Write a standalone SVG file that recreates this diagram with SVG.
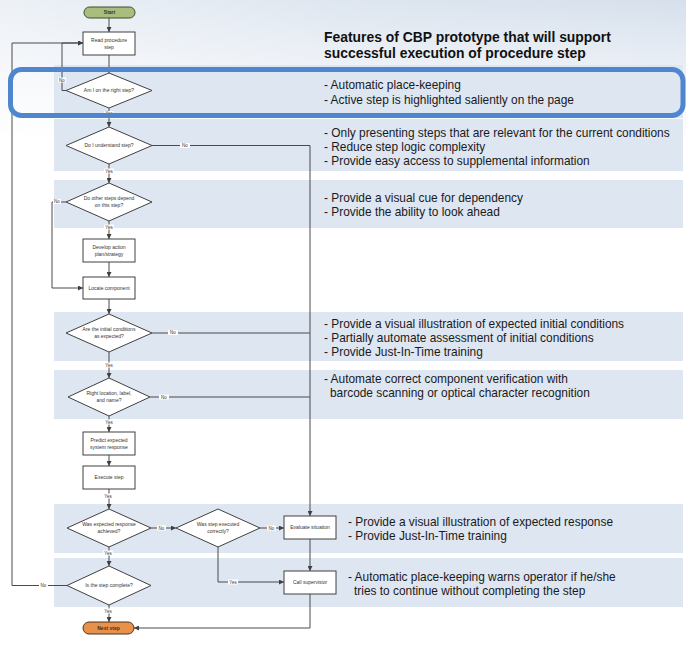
<svg xmlns="http://www.w3.org/2000/svg" width="686" height="645" viewBox="0 0 686 645">
  <defs>
    <linearGradient id="sky" x1="0" y1="0" x2="0" y2="1">
      <stop offset="0" stop-color="#d6e0ec"/>
      <stop offset="0.45" stop-color="#e9eef5"/>
      <stop offset="1" stop-color="#ffffff"/>
    </linearGradient>
    <linearGradient id="skyFade" x1="0" y1="0" x2="1" y2="0">
      <stop offset="0" stop-color="#ffffff" stop-opacity="0.55"/>
      <stop offset="0.5" stop-color="#ffffff" stop-opacity="0.2"/>
      <stop offset="1" stop-color="#ffffff" stop-opacity="0"/>
    </linearGradient>
    <marker id="arrow" viewBox="0 0 6 6" refX="6" refY="3" markerWidth="5" markerHeight="5" markerUnits="userSpaceOnUse" orient="auto">
      <path d="M0,0 L6,3 L0,6 Z" fill="#404040"/>
    </marker>
    <style>
      .band { fill: #dee6f2; }
      .box { fill: #ffffff; stroke: #404040; stroke-width: 1; }
      .dia { fill: #ffffff; stroke: #404040; stroke-width: 1; }
      .conn { fill: none; stroke: #4a4a4a; stroke-width: 1; }
      .arr { marker-end: url(#arrow); }
      .nt { font-family: "Liberation Sans", Arial, sans-serif; font-size: 5px; fill: #333333; text-anchor: middle; }
      .lbl { font-family: "Liberation Sans", Arial, sans-serif; font-size: 4.5px; fill: #333333; text-anchor: middle; }
      .lblbg { fill: #ffffff; }
      .title { font-family: "Liberation Sans", Arial, sans-serif; font-size: 13.9px; font-weight: bold; fill: #111111; }
      .note { font-family: "Liberation Sans", Arial, sans-serif; font-size: 11.9px; fill: #1a1a1a; }
    </style>
  </defs>

  <!-- page background -->
  <rect x="0" y="0" width="686" height="645" fill="#ffffff"/>
  <rect x="0" y="0" width="686" height="140" fill="url(#sky)"/>
  <rect x="0" y="0" width="686" height="140" fill="url(#skyFade)"/>

  <!-- feature bands -->
  <g id="bands">
    <rect class="band" x="54" y="65" width="629" height="53"/>
    <rect class="band" x="54" y="119" width="629" height="52"/>
    <rect class="band" x="54" y="180" width="629" height="48"/>
    <rect class="band" x="54" y="312" width="629" height="49"/>
    <rect class="band" x="54" y="370" width="629" height="49"/>
    <rect class="band" x="54" y="504" width="629" height="49"/>
    <rect class="band" x="54" y="558" width="629" height="49"/>
  </g>

  <!-- connectors -->
  <g id="connectors">
    <path class="conn arr" d="M109 18 V32"/>
    <path class="conn arr" d="M109 55 V73"/>
    <path class="conn arr" d="M66 90.5 H62 V43 H83"/>
    <path class="conn arr" d="M67 585.5 H12 V43 H83"/>
    <path class="conn arr" d="M109 108 V127"/>
    <path class="conn arr" d="M152 145.5 H310 V516"/>
    <path class="conn arr" d="M109 164 V183"/>
    <path class="conn arr" d="M66 202 H52 V288 H83"/>
    <path class="conn arr" d="M109 221 V239"/>
    <path class="conn arr" d="M109 262 V277"/>
    <path class="conn arr" d="M109 299 V314"/>
    <path class="conn" d="M152 333 H310"/>
    <path class="conn arr" d="M109 352 V378"/>
    <path class="conn" d="M150 397 H310"/>
    <path class="conn arr" d="M109 416 V432"/>
    <path class="conn arr" d="M109 455 V466"/>
    <path class="conn arr" d="M109 489 V509"/>
    <path class="conn arr" d="M151 528 H176"/>
    <path class="conn arr" d="M260 528 H284"/>
    <path class="conn arr" d="M218 547 V582 H284"/>
    <path class="conn arr" d="M310 539 V571"/>
    <path class="conn arr" d="M310 594 V628 H134"/>
    <path class="conn arr" d="M109 547 V566"/>
    <path class="conn arr" d="M109 605 V622"/>

    <!-- branch labels -->
    <g id="labels">
      <rect class="lblbg" x="58" y="77.5" width="8" height="5"/><text class="lbl" x="62" y="81.6">No</text>
      <rect class="lblbg" x="104" y="111" width="10" height="5"/><text class="lbl" x="109" y="115">Yes</text>
      <rect class="lblbg" x="180" y="143" width="10" height="5"/><text class="lbl" x="185" y="147.2">No</text>
      <rect class="lblbg" x="104" y="168.5" width="10" height="5"/><text class="lbl" x="109" y="172.6">Yes</text>
      <rect class="lblbg" x="53" y="199" width="8" height="5"/><text class="lbl" x="57" y="203">No</text>
      <rect class="lblbg" x="104" y="224.5" width="10" height="5"/><text class="lbl" x="109" y="228.6">Yes</text>
      <rect class="lblbg" x="168" y="330" width="10" height="5"/><text class="lbl" x="173" y="334">No</text>
      <rect class="lblbg" x="104" y="362.5" width="10" height="5"/><text class="lbl" x="109" y="366.6">Yes</text>
      <rect class="lblbg" x="159" y="394.5" width="10" height="5"/><text class="lbl" x="164" y="398.6">No</text>
      <rect class="lblbg" x="104" y="419.5" width="10" height="5"/><text class="lbl" x="109" y="423.6">Yes</text>
      <rect class="lblbg" x="103" y="493.5" width="10" height="5"/><text class="lbl" x="108" y="497.6">Yes</text>
      <rect class="lblbg" x="157" y="525.5" width="9" height="5"/><text class="lbl" x="161.5" y="529.6">No</text>
      <rect class="lblbg" x="267" y="525.5" width="9" height="5"/><text class="lbl" x="271.5" y="529.6">No</text>
      <rect class="lblbg" x="228" y="579.5" width="10" height="5"/><text class="lbl" x="233" y="583.6">Yes</text>
      <rect class="lblbg" x="103" y="550.5" width="10" height="5"/><text class="lbl" x="108" y="554.6">Yes</text>
      <rect class="lblbg" x="39" y="583" width="9" height="5"/><text class="lbl" x="43.5" y="587">No</text>
      <rect class="lblbg" x="103" y="608.5" width="10" height="5"/><text class="lbl" x="108" y="612.6">Yes</text>
    </g>
  </g>

  <!-- flowchart nodes -->
  <g id="start">
    <rect x="84" y="7" width="51" height="11" rx="5.5" fill="#a9bd7c" stroke="#3e4a2c" stroke-width="1"/>
    <text class="nt" x="109.5" y="14.3" font-weight="bold" fill="#2b2b1b">Start</text>
  </g>
  <g id="read-step">
    <rect class="box" x="83" y="32" width="52" height="23"/>
    <text class="nt" x="109" y="42">Read procedure</text>
    <text class="nt" x="109" y="48.5">step</text>
  </g>
  <g id="right-step">
    <polygon class="dia" points="109,73 152,90.5 109,108 66,90.5"/>
    <text class="nt" x="109" y="92.3">Am I on the right step?</text>
  </g>
  <g id="understand-step">
    <polygon class="dia" points="109,127 152,145.5 109,164 66,145.5"/>
    <text class="nt" x="109" y="147.3">Do I understand step?</text>
  </g>
  <g id="depend-step">
    <polygon class="dia" points="109,183 152,202 109,221 66,202"/>
    <text class="nt" x="109" y="200">Do other steps depend</text>
    <text class="nt" x="109" y="206.5">on this step?</text>
  </g>
  <g id="action-plan">
    <rect class="box" x="83" y="239" width="52" height="23"/>
    <text class="nt" x="109" y="249">Develop action</text>
    <text class="nt" x="109" y="255.5">plan/strategy</text>
  </g>
  <g id="locate">
    <rect class="box" x="83" y="277" width="52" height="22"/>
    <text class="nt" x="109" y="289.7">Locate component</text>
  </g>
  <g id="initial-conditions">
    <polygon class="dia" points="109,314 152,333 109,352 66,333"/>
    <text class="nt" x="109" y="331">Are the initial conditions</text>
    <text class="nt" x="109" y="337.5">as expected?</text>
  </g>
  <g id="right-location">
    <polygon class="dia" points="109,378 150,397 109,416 68,397"/>
    <text class="nt" x="109" y="395">Right location, label,</text>
    <text class="nt" x="109" y="401.5">and name?</text>
  </g>
  <g id="predict">
    <rect class="box" x="83" y="432" width="52" height="23"/>
    <text class="nt" x="109" y="442">Predict expected</text>
    <text class="nt" x="109" y="448.5">system response</text>
  </g>
  <g id="execute">
    <rect class="box" x="83" y="466" width="52" height="23"/>
    <text class="nt" x="109" y="479.2">Execute step</text>
  </g>
  <g id="response-achieved">
    <polygon class="dia" points="109,509 151,528 109,547 67,528"/>
    <text class="nt" x="109" y="526">Was expected response</text>
    <text class="nt" x="109" y="532.5">achieved?</text>
  </g>
  <g id="executed-correctly">
    <polygon class="dia" points="218,509 260,528 218,547 176,528"/>
    <text class="nt" x="218" y="526">Was step executed</text>
    <text class="nt" x="218" y="532.5">correctly?</text>
  </g>
  <g id="evaluate">
    <rect class="box" x="284" y="516" width="52" height="23"/>
    <text class="nt" x="310" y="529.2">Evaluate situation</text>
  </g>
  <g id="supervisor">
    <rect class="box" x="284" y="571" width="52" height="23"/>
    <text class="nt" x="310" y="584.2">Call supervisior</text>
  </g>
  <g id="step-complete">
    <polygon class="dia" points="109,566 151,585.5 109,605 67,585.5"/>
    <text class="nt" x="109" y="587.3">Is the step complete?</text>
  </g>
  <g id="next-step">
    <rect x="83" y="622" width="51" height="12" rx="6" fill="#e8914b" stroke="#4a3320" stroke-width="1"/>
    <text class="nt" x="108.5" y="629.8" font-weight="bold" fill="#2b1d10">Next step</text>
  </g>

  <!-- active-step highlight -->
  <rect id="highlight" x="10.5" y="69.5" width="672.5" height="46" rx="11" fill="none" stroke="#4f86d0" stroke-width="5"/>

  <!-- feature notes -->
  <g id="notes">
    <text class="title" x="324" y="42">Features of CBP prototype that will support</text>
    <text class="title" x="324" y="57.5">successful execution of procedure step</text>

    <text class="note" x="324" y="89">- Automatic place-keeping</text>
    <text class="note" x="324" y="103.5">- Active step is highlighted saliently on the page</text>

    <text class="note" x="324" y="136.5">- Only presenting steps that are relevant for the current conditions</text>
    <text class="note" x="324" y="150.5">- Reduce step logic complexity</text>
    <text class="note" x="324" y="164.5">- Provide easy access to supplemental information</text>

    <text class="note" x="324" y="201.5">- Provide a visual cue for dependency</text>
    <text class="note" x="324" y="216">- Provide the ability to look ahead</text>

    <text class="note" x="324" y="327.5">- Provide a visual illustration of expected initial conditions</text>
    <text class="note" x="324" y="341.5">- Partially automate assessment of initial conditions</text>
    <text class="note" x="324" y="356">- Provide Just-In-Time training</text>

    <text class="note" x="324" y="382.5">- Automate correct component verification with</text>
    <text class="note" x="330" y="397">barcode scanning or optical character recognition</text>

    <text class="note" x="348" y="525.5">- Provide a visual illustration of expected response</text>
    <text class="note" x="348" y="540">- Provide Just-In-Time training</text>

    <text class="note" x="348" y="580.5">- Automatic place-keeping warns operator if he/she</text>
    <text class="note" x="354" y="594.5">tries to continue without completing the step</text>
  </g>
</svg>
